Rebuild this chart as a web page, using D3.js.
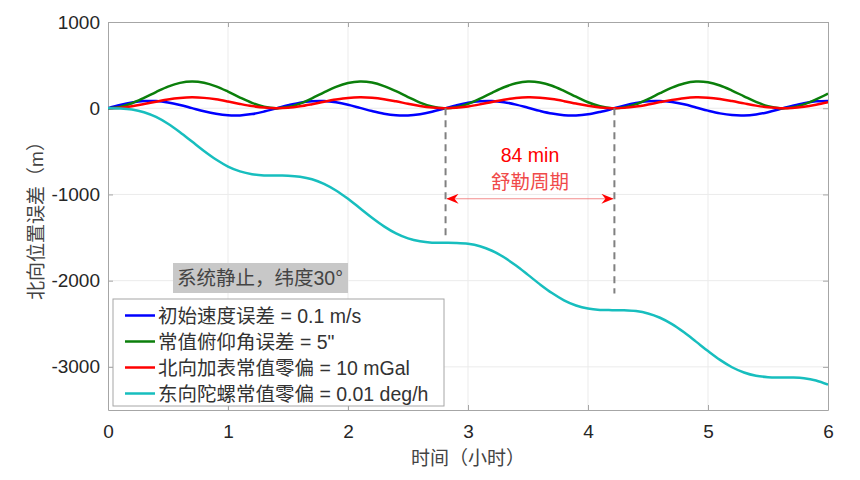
<!DOCTYPE html>
<html lang="zh">
<head>
  <meta charset="UTF-8">
  <title>北向位置误差</title>
  <script src="https://d3js.org/d3.v7.min.js"></script>
  <style>
    body { margin: 0; background: #fff; }
    svg { display: block; font-family: "Liberation Sans", Arial, "Noto Sans CJK SC", sans-serif; }
    .tick text { font-size: 19px; fill: #262626; }
    .cjk { font-family: "Liberation Sans", "Noto Sans CJK SC", sans-serif; }
  </style>
</head>
<body>
  <svg id="chart" width="860" height="480"></svg>
  <script>
    // 时间（小时），每 0.1 h 一个点
    const hours = [0,0.1,0.2,0.3,0.4,0.5,0.6,0.7,0.8,0.9,1,1.1,1.2,1.3,1.4,1.5,1.6,1.7,1.8,1.9,2,
      2.1,2.2,2.3,2.4,2.5,2.6,2.7,2.8,2.9,3,3.1,3.2,3.3,3.4,3.5,3.6,3.7,3.8,3.9,4,
      4.1,4.2,4.3,4.4,4.5,4.6,4.7,4.8,4.9,5,5.1,5.2,5.3,5.4,5.5,5.6,5.7,5.8,5.9,6];

    // 北向位置误差 (m)
    const velErr = [0,37,66,83,83,67,38,1,-36,-65,-82,-83,-68,-39,-3,34,65,82,84,68,40,
      4,-33,-64,-82,-84,-69,-41,-5,32,63,81,84,70,42,6,-31,-62,-81,-84,-71,
      -43,-8,30,61,81,84,71,45,9,-28,-60,-80,-84,-72,-46,-10,27,59,80,85];
    const pitchErr = [0,15,58,120,188,251,294,310,296,254,193,124,62,17,0,13,54,115,184,247,292,
      310,298,257,197,129,65,19,0,11,51,111,179,243,289,310,299,261,201,134,69,
      22,1,10,47,106,175,239,287,309,301,264,205,138,73,24,1,8,44,102,170];
    const accelBias = [0,6,24,49,76,102,119,126,120,103,78,50,25,7,0,5,22,47,75,100,119,
      126,121,105,80,52,26,8,0,5,21,45,73,99,118,126,122,106,82,54,28,
      9,0,4,19,43,71,97,117,126,122,107,83,56,30,10,0,3,18,41,69];
    const gyroBias = [0,-2,-14,-46,-101,-180,-278,-387,-496,-595,-676,-732,-765,-779,-781,-782,-794,-823,-877,-954,-1051,
      -1160,-1270,-1370,-1452,-1510,-1544,-1559,-1561,-1563,-1573,-1601,-1653,-1729,-1825,-1933,-2043,-2144,-2228,-2288,-2324,
      -2339,-2342,-2343,-2353,-2380,-2430,-2504,-2599,-2707,-2817,-2919,-3004,-3065,-3103,-3119,-3123,-3124,-3132,-3158,-3206];

    const seriesNames = ['初始速度误差 = 0.1 m/s', '常值俯仰角误差 = 5"', '北向加表常值零偏 = 10 mGal', '东向陀螺常值零偏 = 0.01 deg/h'];
    const seriesColors = ['#0000ff', '#0b7f0b', '#ff0000', '#17bebe'];
    const seriesValues = [velErr, pitchErr, accelBias, gyroBias];

    const xTicks = [0, 1, 2, 3, 4, 5, 6];
    const yTicks = [1000, 0, -1000, -2000, -3000];

    // 舒勒周期标注：两条虚线的时间、下端位置，箭头位置
    const schulerMarks = [2.813, 4.22];
    const schulerEnds = [-1500, -2150];
    const arrowLevel = -1050;

    const margin = { left: 108, right: 32, top: 22, bottom: 70 };
    const W = 860, H = 480;
    const svg = d3.select('#chart');

    const x = d3.scaleLinear().domain([0, 6]).range([margin.left, W - margin.right]);
    const y = d3.scaleLinear().domain([-3500, 1000]).range([H - margin.bottom, margin.top]);
    const [x0, x1] = x.range();
    const [y1, y0] = y.range();

    // 网格
    const grid = svg.append('g');
    grid.selectAll('.gx').data(xTicks.slice(1, -1)).join('line')
      .attr('x1', d => x(d)).attr('x2', d => x(d)).attr('y1', y0).attr('y2', y1)
      .attr('stroke', '#ebebeb').attr('stroke-width', 1);
    grid.selectAll('.gy').data(yTicks.slice(1)).join('line')
      .attr('x1', x0).attr('x2', x1).attr('y1', d => y(d)).attr('y2', d => y(d))
      .attr('stroke', '#ebebeb').attr('stroke-width', 1);

    // 坐标轴（内向刻度，四边框）
    const axisColor = '#a6a6a6';
    const plain = d => String(d);
    const styleAxis = g => {
      g.select('.domain').attr('stroke', axisColor);
      g.selectAll('.tick line').attr('stroke', axisColor);
    };
    svg.append('g').attr('transform', `translate(0,${y1})`)
      .call(d3.axisBottom(x).tickValues(xTicks).tickFormat(plain).tickSize(-5).tickPadding(15).tickSizeOuter(0))
      .call(styleAxis);
    svg.append('g').attr('transform', `translate(0,${y0})`)
      .call(d3.axisTop(x).tickValues(xTicks).tickSize(-5).tickFormat('').tickSizeOuter(0))
      .call(styleAxis);
    svg.append('g').attr('transform', `translate(${x0},0)`)
      .call(d3.axisLeft(y).tickValues(yTicks).tickFormat(plain).tickSize(-5).tickPadding(8).tickSizeOuter(0))
      .call(styleAxis);
    svg.append('g').attr('transform', `translate(${x1},0)`)
      .call(d3.axisRight(y).tickValues(yTicks).tickSize(-5).tickFormat('').tickSizeOuter(0))
      .call(styleAxis);
    svg.selectAll('.tick text').attr('font-family', '"Liberation Sans", Arial, sans-serif');

    // 曲线
    svg.append('clipPath').attr('id', 'plot-clip')
      .append('rect').attr('x', x0).attr('y', y0).attr('width', x1 - x0).attr('height', y1 - y0);
    const line = d3.line()
      .x((d, i) => x(hours[i]))
      .y(d => y(d))
      .curve(d3.curveCatmullRom.alpha(0.5));
    svg.append('g').attr('clip-path', 'url(#plot-clip)')
      .selectAll('path').data(seriesValues).join('path')
      .attr('d', line)
      .attr('fill', 'none')
      .attr('stroke', (d, i) => seriesColors[i])
      .attr('stroke-width', 2.5);

    // 舒勒周期标注
    svg.selectAll('.schuler').data(schulerMarks).join('line')
      .attr('x1', d => x(d)).attr('x2', d => x(d))
      .attr('y1', y(0)).attr('y2', (d, i) => y(schulerEnds[i]))
      .attr('stroke', '#808080').attr('stroke-width', 2)
      .attr('stroke-dasharray', '7,5');

    const defs = svg.append('defs');
    defs.append('marker').attr('id', 'ah').attr('viewBox', '0 0 12 10')
      .attr('refX', 12).attr('refY', 5).attr('markerWidth', 12).attr('markerHeight', 10)
      .attr('markerUnits', 'userSpaceOnUse').attr('orient', 'auto-start-reverse')
      .append('path').attr('d', 'M0,0 L12,5 L0,10 L4,5 Z').attr('fill', '#ff0000');
    svg.append('line')
      .attr('x1', x(schulerMarks[0]) + 1).attr('x2', x(schulerMarks[1]) - 1)
      .attr('y1', y(arrowLevel)).attr('y2', y(arrowLevel))
      .attr('stroke', '#f07070').attr('stroke-width', 0.8)
      .attr('marker-start', 'url(#ah)').attr('marker-end', 'url(#ah)');

    const midX = x((schulerMarks[0] + schulerMarks[1]) / 2);
    svg.append('text').attr('x', midX).attr('y', 162).attr('text-anchor', 'middle')
      .attr('font-size', 19.5).attr('fill', '#ff0000').text('84 min');
    svg.append('text').attr('class', 'cjk').attr('x', midX).attr('y', 189).attr('text-anchor', 'middle')
      .attr('font-size', 19.5).attr('fill', '#f04a4a').text('舒勒周期');

    // 条件说明
    svg.append('rect').attr('x', 173).attr('y', 263).attr('width', 175).attr('height', 30).attr('fill', '#c8c8c8');
    svg.append('text').attr('class', 'cjk').attr('x', 177).attr('y', 285)
      .attr('font-size', 19.5).attr('fill', '#444').text('系统静止，纬度30°');

    // 图例
    const legend = svg.append('g').attr('transform', 'translate(113,299)');
    legend.append('rect').attr('width', 331).attr('height', 107)
      .attr('fill', '#fff').attr('stroke', '#a6a6a6').attr('stroke-width', 1);
    const items = legend.selectAll('.item').data(seriesNames).join('g')
      .attr('transform', (d, i) => `translate(0,${16.5 + i * 26})`);
    items.append('line').attr('x1', 12).attr('x2', 42).attr('y1', 0).attr('y2', 0)
      .attr('stroke', (d, i) => seriesColors[i]).attr('stroke-width', 2.5);
    items.append('text').attr('class', 'cjk').attr('x', 45).attr('y', 7)
      .attr('font-size', 19.5).attr('fill', '#333').text(d => d);

    // 轴标题
    svg.append('text').attr('class', 'cjk').attr('x', (x0 + x1) / 2).attr('y', 465)
      .attr('text-anchor', 'middle').attr('font-size', 19).attr('fill', '#444').text('时间（小时）');
    svg.append('text').attr('class', 'cjk')
      .attr('transform', `translate(43,${(y0 + y1) / 2}) rotate(-90)`)
      .attr('text-anchor', 'middle').attr('font-size', 19).attr('fill', '#444').text('北向位置误差（m）');
  </script>
</body>
</html>
